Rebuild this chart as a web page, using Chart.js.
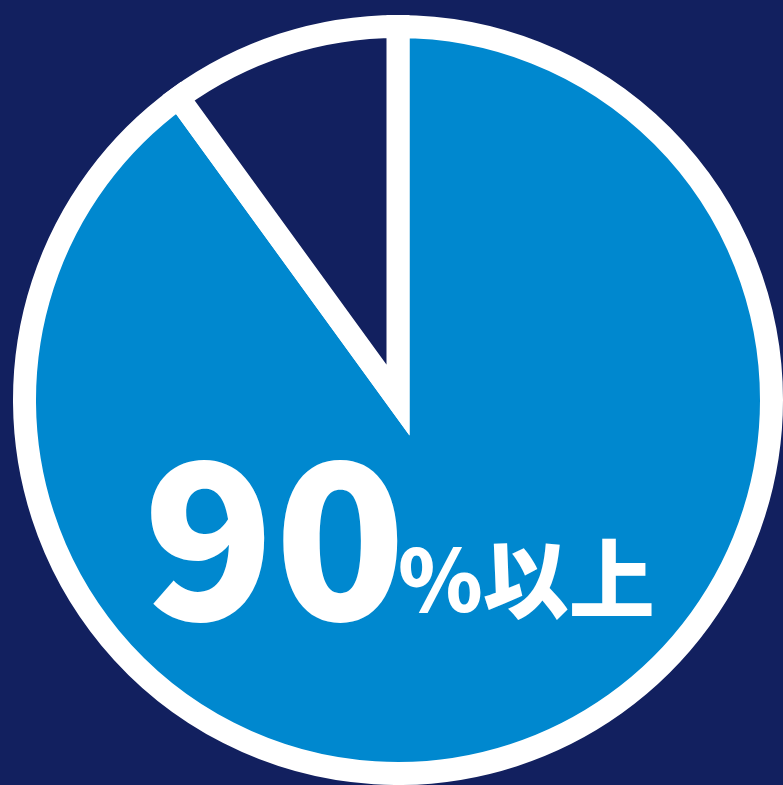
<!DOCTYPE html>
<html>
<head>
<meta charset="utf-8">
<script src="https://cdn.jsdelivr.net/npm/chart.js@4.4.1/dist/chart.umd.min.js"></script>
<style>
  html, body { margin: 0; padding: 0; background: #12205f; overflow: hidden; }
  #chart { display: block; }
</style>
</head>
<body>
<canvas id="chart" width="783" height="785"></canvas>
<script>
const labels = ['90%以上', 'その他'];
const values = [90, 10];
const colors = ['#0088cf', '#12205f'];
const bigText = '90';
const smallText = '%以上';

// the big number sits on the pie, drawn after the arcs
const centerLabel = {
  id: 'centerLabel',
  afterDraw(chart) {
    const ctx = chart.ctx;
    ctx.save();
    ctx.fillStyle = '#ffffff';
    ctx.textBaseline = 'alphabetic';
    ctx.textAlign = 'left';
    ctx.font = '900 216px "Noto Sans CJK JP", "Noto Sans", sans-serif';
    ctx.fillText(bigText, 143, 620);
    ctx.font = '900 86px "Noto Sans CJK JP", "Noto Sans", sans-serif';
    ctx.fillText(smallText, 398, 612);
    ctx.restore();
  }
};

new Chart(document.getElementById('chart'), {
  type: 'pie',
  data: {
    labels: labels,
    datasets: [{
      data: values,
      backgroundColor: colors,
      borderColor: '#ffffff',
      borderWidth: 23,
      borderJoinStyle: 'miter'
    }]
  },
  options: {
    responsive: false,
    animation: false,
    layout: { padding: { left: 13, top: 15, right: 0, bottom: 0 } },
    plugins: {
      legend: { display: false },
      tooltip: { enabled: false }
    }
  },
  plugins: [centerLabel]
});
</script>
</body>
</html>
